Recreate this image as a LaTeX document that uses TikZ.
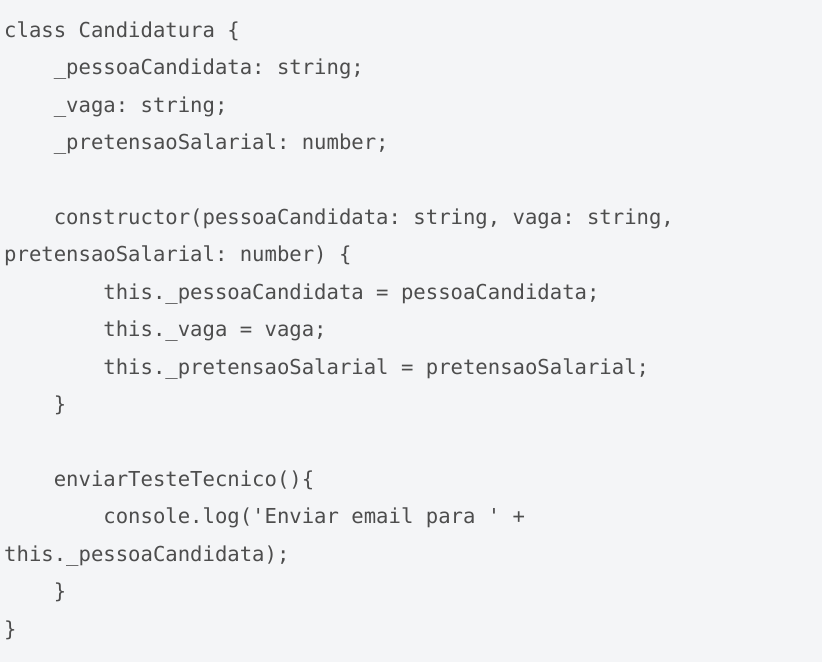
\documentclass[tikz,border=0pt]{standalone}
\usepackage{fontspec}
\setmonofont{DejaVu Sans Mono}
\usepackage{xcolor}
\usetikzlibrary{matrix,positioning}

\definecolor{codebg}{HTML}{F4F5F7}
\definecolor{codefg}{HTML}{4D4D4D}
\newcommand{\codefont}{\ttfamily\fontsize{20.6bp}{37.44bp}\selectfont}
\newcommand{\codetab}{\hphantom{0000}}

\begin{document}
\begin{tikzpicture}[x=1bp,y=1bp]
        % background of the code block, also fixes the page size
        \path[fill=codebg,use as bounding box] (0,0) rectangle (822,-662);

        \matrix (m)[matrix of nodes, anchor=north west, inner sep=0pt, row sep=0pt, nodes in empty cells,
            nodes={inner sep=0pt, anchor=base west, text height=26.2bp, text depth=11.24bp, font=\codefont, text=codefg}] at (4,-10.8) {
            class Candidatura \{                                          \\
            \codetab\_pessoaCandidata: string;                            \\
            \codetab\_vaga: string;                                       \\
            \codetab\_pretensaoSalarial: number;                          \\
                                                                          \\
            \codetab constructor(pessoaCandidata: string, vaga: string,   \\
            pretensaoSalarial: number) \{                                 \\
            \codetab\codetab this.\_pessoaCandidata = pessoaCandidata;    \\
            \codetab\codetab this.\_vaga = vaga;                          \\
            \codetab\codetab this.\_pretensaoSalarial = pretensaoSalarial;\\
            \codetab\}                                                    \\
                                                                          \\
            \codetab enviarTesteTecnico()\{                               \\
            \codetab\codetab console.log('Enviar email para ' +           \\
            this.\_pessoaCandidata);                                      \\
            \codetab\}                                                    \\
            \}                                                            \\
        };
    \end{tikzpicture}
\end{document}
